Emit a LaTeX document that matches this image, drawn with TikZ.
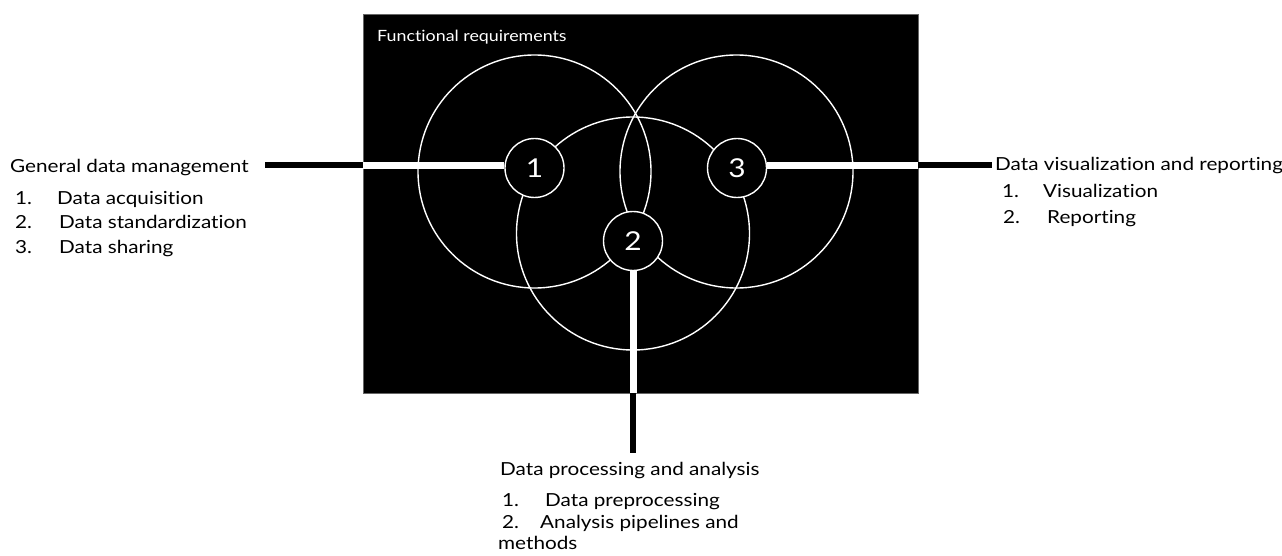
\documentclass[tikz,border=0pt]{standalone}
\usepackage{fontspec}
\setmainfont{Lato}[FakeStretch=1.15,Ligatures=CommonOff]
\begin{document}
\begin{tikzpicture}[x=1pt,y=-1pt,
  bigc/.style={draw=white,line width=1.4pt},
  numc/.style={circle,draw=white,fill=black,line width=1.4pt,minimum size=59pt,inner sep=0pt,text=white,font=\fontsize{26}{26}\selectfont},
  wbar/.style={draw=white,line width=7pt},
  bbar/.style={draw=black,line width=6pt},
  lbl/.style={anchor=base west,inner sep=0pt,font=\fontsize{18}{20}\selectfont},
  item/.style={anchor=base west,inner sep=0pt,font=\fontsize{18}{20}\selectfont}]
\useasboundingbox (0,0) rectangle (1282,556);
% panel
\node[fill=black,draw=black!60,line width=0.6pt,minimum width=555pt,minimum height=379pt,inner sep=0pt,anchor=north west] (panel) at (363,14) {};
\node[anchor=base west,inner sep=0pt,text=white,font=\fontsize{15.5}{18}\selectfont] (fr) at (377,42) {Functional requirements};
% big circles
\draw[bigc] (534.5,171.5) circle[radius=116.5];
\draw[bigc] (736.5,171.5) circle[radius=116.5];
\draw[bigc] (633,233.5) circle[radius=116.5];
% coordinates on panel border
\coordinate (lin) at (363,165.5);
\coordinate (rin) at (918,165.5);
\coordinate (bin) at (633,393);
\coordinate (lout) at (265,165.5);
\coordinate (rout) at (992,165.5);
\coordinate (bout) at (633,453);
% small circles
\node[numc] (c1) at (534.5,168) {1};
\node[numc] (c3) at (737,168) {3};
\node[numc] (c2) at (633,241) {2};
% connectors
\draw[wbar] (lin) -- (c1.west |- lin);
\draw[wbar] (c3.east |- rin) -- (rin);
\draw[wbar] (c2.south) -- (bin);
\draw[bbar] (lout) -- (lin);
\draw[bbar] (rin) -- (rout);
\draw[bbar] (bin) -- (bout);
% left labels
\node[lbl] (gdm) at (10,173) {General data management};
\node[item] (g1n) at (15,205) {1.};
\node[item] (g1) at (57,205) {Data acquisition};
\node[item] (g2n) at (15,229) {2.};
\node[item] (g2) at (59,229) {Data standardization};
\node[item] (g3n) at (15,253) {3.};
\node[item] (g3) at (59,253) {Data sharing};
% right labels
\node[lbl] (dvr) at (995,171) {Data visualization and reporting};
\node[item] (v1n) at (1002,198) {1.};
\node[item] (v1) at (1043,198) {Visualization};
\node[item] (v2n) at (1003,223) {2.};
\node[item] (v2) at (1047,223) {Reporting};
% bottom labels
\node[lbl] (dpa) at (500,475) {Data processing and analysis};
\node[item] (p1n) at (502,506) {1.};
\node[item] (p1) at (545,506) {Data preprocessing};
\node[item] (p2n) at (502,528) {2.};
\node[item] (p2) at (540,528) {Analysis pipelines and};
\node[item] (p3) at (498,549) {methods};
\end{tikzpicture}
\end{document}
